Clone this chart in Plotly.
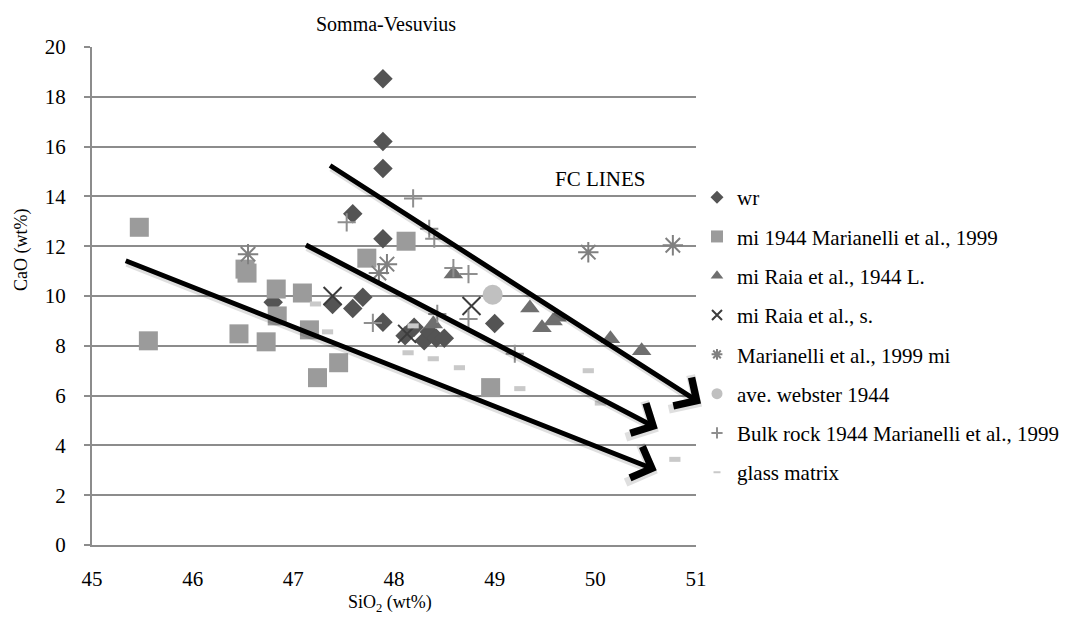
import plotly.graph_objects as go

# --- data (SiO2 vs CaO, wt%) ---
wr_sio2 = [47.89, 47.89, 47.89, 47.59, 47.89, 47.39, 47.59, 47.69, 46.80, 47.89,
           48.11, 48.20, 48.30, 48.35, 48.42, 48.50, 49.00]
wr_cao = [18.72, 16.20, 15.12, 13.30, 12.30, 9.66, 9.50, 9.95, 9.75, 8.95,
          8.40, 8.75, 8.20, 8.55, 8.30, 8.30, 8.90]

mi44_sio2 = [45.47, 45.56, 46.52, 46.54, 46.83, 46.84, 46.46, 46.73, 47.09, 47.16,
             47.45, 47.24, 47.73, 48.12, 48.96]
mi44_cao = [12.76, 8.20, 11.08, 10.92, 10.28, 9.20, 8.48, 8.16, 10.12, 8.64,
            7.32, 6.72, 11.52, 12.20, 6.32]

raiaL_sio2 = [48.59, 49.35, 49.58, 49.47, 49.62, 50.15, 50.46, 48.39]
raiaL_cao = [10.88, 9.52, 9.00, 8.72, 9.15, 8.28, 7.80, 8.88]

raiaS_sio2 = [47.39, 48.13, 48.77]
raiaS_cao = [10.00, 8.48, 9.60]

mar99_sio2 = [46.55, 47.93, 47.85, 49.93, 50.77]
mar99_cao = [11.68, 11.28, 10.92, 11.76, 12.04]

webster_sio2 = [48.98]
webster_cao = [10.05]

bulk_sio2 = [48.19, 47.53, 48.35, 48.40, 48.59, 48.74, 47.79, 48.74, 49.20, 48.43]
bulk_cao = [13.92, 12.96, 12.70, 12.30, 11.12, 10.88, 8.92, 9.08, 7.68, 9.28]

glass_sio2 = [47.22, 47.34, 48.19, 48.14, 48.39, 48.65, 49.25, 49.93, 50.05, 50.79]
glass_cao = [9.68, 8.56, 8.80, 7.72, 7.48, 7.12, 6.28, 7.00, 5.70, 3.44]

# FC trend arrows: (tail SiO2, tail CaO, head SiO2, head CaO)
fc_arrows = [
    (47.35, 15.28, 51.05, 5.68),
    (47.11, 12.08, 50.62, 4.68),
    (45.32, 11.44, 50.61, 3.00),
]

series = [
    dict(name="wr", x=wr_sio2, y=wr_cao, symbol="diamond", color="#545454",
         size=15, lw=0, legsize=10),
    dict(name="mi 1944 Marianelli et al., 1999", x=mi44_sio2, y=mi44_cao,
         symbol="square", color="#9b9b9b", size=19, lw=0, legsize=12),
    dict(name="mi Raia et al., 1944 L.", x=raiaL_sio2, y=raiaL_cao,
         symbol="triangle-up", color="#6f6f6f", size=17, lw=0, legsize=11),
    dict(name="mi Raia et al., s.", x=raiaS_sio2, y=raiaS_cao,
         symbol="x-thin-open", color="#3c3c3c", size=18, lw=2, legsize=10),
    dict(name="Marianelli et al., 1999 mi", x=mar99_sio2, y=mar99_cao,
         symbol="asterisk-open", color="#808080", size=17, lw=2, legsize=9),
    dict(name="ave. webster 1944", x=webster_sio2, y=webster_cao,
         symbol="circle", color="#c0c0c0", size=20, lw=0, legsize=11),
    dict(name="Bulk rock 1944 Marianelli et al., 1999", x=bulk_sio2, y=bulk_cao,
         symbol="cross-thin-open", color="#8f8f8f", size=13, lw=2, legsize=8),
    dict(name="glass matrix", x=glass_sio2, y=glass_cao,
         symbol="line-ew-open", color="#c9c9c9", size=8, lw=5, legsize=5),
]

fig = go.Figure()

for s in series:
    fig.add_trace(go.Scatter(
        x=s["x"], y=s["y"], mode="markers", name=s["name"], showlegend=False,
        marker=dict(symbol=s["symbol"], size=s["size"], color=s["color"],
                    line=dict(width=s["lw"], color=s["color"])),
        cliponaxis=False,
    ))

# compact legend entries
for i, s in enumerate(series):
    fig.add_trace(go.Scatter(
        x=[None], y=[None], mode="markers", name=s["name"], legendgroup=f"g{i}",
        marker=dict(symbol=s["symbol"], size=s["legsize"], color=s["color"],
                    line=dict(width=min(s["lw"], 2) if s["lw"] else 0,
                              color=s["color"])),
    ))

annotations = []
# soft shadows under the arrows
for x0, y0, x1, y1 in fc_arrows:
    annotations.append(dict(
        x=x1, y=y1, ax=x0, ay=y0, xref="x", yref="y", axref="x", ayref="y",
        text="", showarrow=True, arrowhead=4, arrowsize=1.3, arrowwidth=6,
        arrowcolor="rgba(0,0,0,0.12)", xshift=1, yshift=-3,
    ))
for x0, y0, x1, y1 in fc_arrows:
    annotations.append(dict(
        x=x1, y=y1, ax=x0, ay=y0, xref="x", yref="y", axref="x", ayref="y",
        text="", showarrow=True, arrowhead=4, arrowsize=1.3, arrowwidth=5,
        arrowcolor="#000000",
    ))

serif = "Liberation Serif, Times New Roman, serif"
annotations.append(dict(text="FC LINES", x=50.05, y=14.68, xref="x", yref="y",
                        showarrow=False,
                        font=dict(family=serif, size=21, color="#000")))

W, H = 1065, 629
L, R, T, B = 92, 369, 47, 84
pw, ph = W - L - R, H - T - B

# title and axis titles, placed by pixel position
labels = [
    dict(text="Somma-Vesuvius", px=386, py=24, size=20, angle=0),
    dict(text="CaO (wt%)", px=22, py=250, size=18, angle=-90),
    dict(text="SiO<sub>2</sub> (wt%)", px=390, py=603, size=18, angle=0),
]
for lb in labels:
    annotations.append(dict(
        text=lb["text"], xref="paper", yref="paper",
        x=(lb["px"] - L) / pw, y=1 - (lb["py"] - T) / ph,
        xanchor="center", yanchor="middle", textangle=lb["angle"],
        showarrow=False, font=dict(family=serif, size=lb["size"], color="#000"),
    ))

fig.update_layout(
    width=W, height=H,
    margin=dict(l=L, r=R, t=T, b=B, pad=0, autoexpand=False),
    paper_bgcolor="white", plot_bgcolor="white",
    font=dict(family=serif, size=21, color="#000"),
    showlegend=True,
    legend=dict(xref="container", yref="container",
                x=697 / W, y=1 - 177 / H, xanchor="left", yanchor="top",
                font=dict(family=serif, size=21, color="#000"),
                traceorder="grouped", tracegroupgap=9, maxheight=600,
                bgcolor="rgba(0,0,0,0)", itemwidth=30),
    annotations=annotations,
    xaxis=dict(range=[45, 51], tickvals=[45, 46, 47, 48, 49, 50, 51],
               showgrid=False, zeroline=False, showline=True,
               linecolor="#8c8c8c", linewidth=2, ticks="",
               ticklabelstandoff=14,
               tickfont=dict(family=serif, size=21, color="#000")),
    yaxis=dict(range=[0, 20], tickvals=list(range(0, 21, 2)),
               showgrid=True, gridcolor="#8c8c8c", gridwidth=2,
               zeroline=False, showline=True, linecolor="#8c8c8c", linewidth=2,
               ticks="outside", ticklen=6, tickcolor="#8c8c8c", tickwidth=2,
               ticklabelstandoff=14,
               tickfont=dict(family=serif, size=21, color="#000")),
)

fig.write_html("out.html")
